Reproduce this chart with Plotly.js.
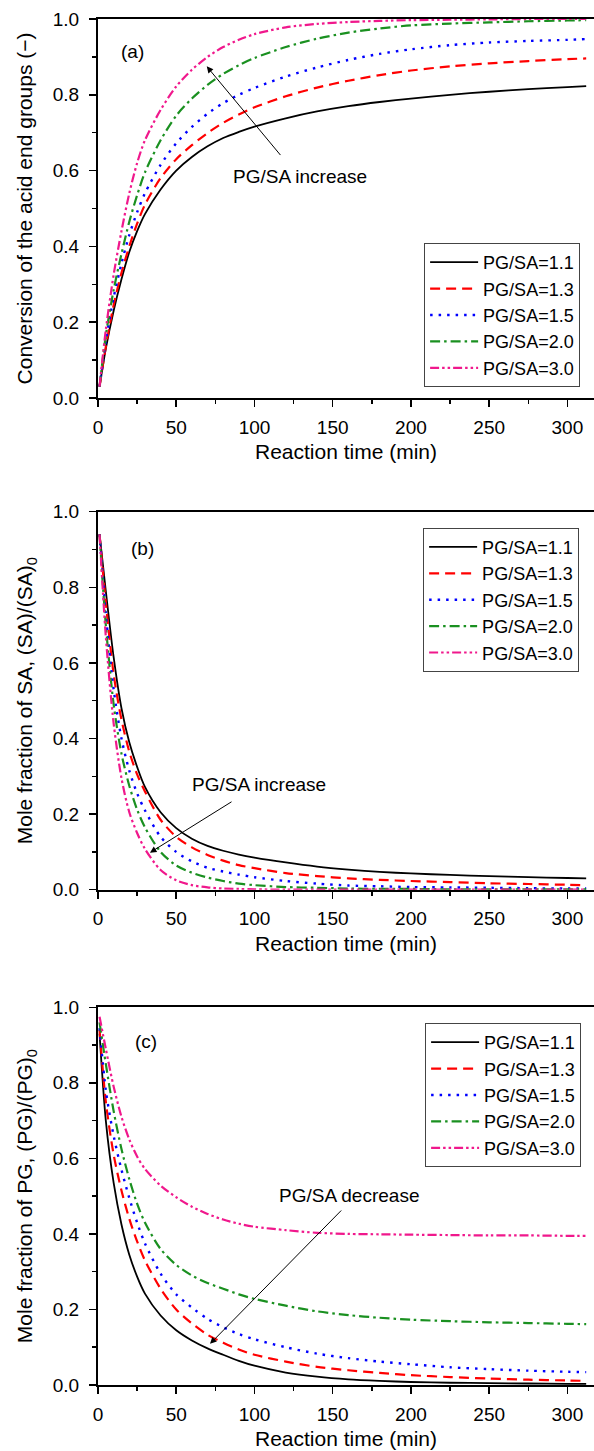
<!DOCTYPE html>
<html>
<head>
<meta charset="utf-8">
<script src="https://cdn.plot.ly/plotly-3.0.1.min.js"></script>
<style>
  html, body { margin: 0; padding: 0; background: #fff; }
  #chart { width: 594px; height: 1451px; }
</style>
</head>
<body>
<div id="chart"></div>
<script>
// ---------- data ----------
const timeMin = [1, 5, 10, 15, 20, 25, 30, 40, 50, 60, 70, 80, 90, 100, 120, 140, 160, 180, 200, 225, 250, 275, 300, 312];

const seriesNames = ['PG/SA=1.1', 'PG/SA=1.3', 'PG/SA=1.5', 'PG/SA=2.0', 'PG/SA=3.0'];

// (a) conversion of the acid end groups
const convA_11 = [0.03, 0.13, 0.23, 0.313, 0.385, 0.44, 0.485, 0.55, 0.60, 0.636, 0.664, 0.686, 0.702, 0.716, 0.738, 0.756, 0.770, 0.781, 0.790, 0.800, 0.808, 0.815, 0.820, 0.823];
const convA_13 = [0.03, 0.135, 0.245, 0.33, 0.40, 0.46, 0.51, 0.58, 0.63, 0.667, 0.699, 0.726, 0.748, 0.767, 0.796, 0.819, 0.837, 0.852, 0.864, 0.875, 0.883, 0.889, 0.894, 0.896];
const convA_15 = [0.03, 0.15, 0.265, 0.355, 0.43, 0.49, 0.54, 0.615, 0.672, 0.715, 0.750, 0.778, 0.800, 0.818, 0.848, 0.872, 0.892, 0.908, 0.920, 0.931, 0.938, 0.942, 0.945, 0.947];
const convA_20 = [0.03, 0.165, 0.285, 0.38, 0.465, 0.535, 0.595, 0.68, 0.745, 0.79, 0.826, 0.855, 0.878, 0.897, 0.926, 0.948, 0.964, 0.975, 0.983, 0.988, 0.991, 0.994, 0.996, 0.997];
const convA_30 = [0.03, 0.18, 0.325, 0.44, 0.54, 0.62, 0.68, 0.76, 0.822, 0.866, 0.900, 0.926, 0.945, 0.960, 0.978, 0.987, 0.992, 0.995, 0.997, 0.998, 0.999, 1.0, 1.0, 1.0];

// (b) mole fraction of SA
const fracSA_11 = [0.94, 0.79, 0.615, 0.48, 0.39, 0.325, 0.272, 0.205, 0.163, 0.135, 0.116, 0.103, 0.093, 0.085, 0.072, 0.061, 0.053, 0.047, 0.043, 0.039, 0.036, 0.033, 0.031, 0.030];
const fracSA_13 = [0.94, 0.76, 0.57, 0.45, 0.365, 0.305, 0.26, 0.185, 0.14, 0.112, 0.092, 0.077, 0.065, 0.057, 0.044, 0.036, 0.030, 0.026, 0.023, 0.020, 0.017, 0.015, 0.013, 0.012];
const fracSA_15 = [0.94, 0.73, 0.53, 0.40, 0.315, 0.255, 0.21, 0.14, 0.10, 0.075, 0.058, 0.048, 0.040, 0.033, 0.023, 0.016, 0.011, 0.009, 0.007, 0.006, 0.005, 0.004, 0.003, 0.003];
const fracSA_20 = [0.94, 0.70, 0.49, 0.36, 0.275, 0.212, 0.165, 0.10, 0.064, 0.045, 0.032, 0.023, 0.016, 0.012, 0.007, 0.005, 0.003, 0.002, 0.002, 0.001, 0.001, 0.001, 0.001, 0.001];
const fracSA_30 = [0.94, 0.67, 0.44, 0.295, 0.205, 0.15, 0.108, 0.052, 0.025, 0.012, 0.006, 0.003, 0.002, 0.001, 0.0, 0.0, 0.0, 0.0, 0.0, 0.0, 0.0, 0.0, 0.0, 0.0];

// (c) mole fraction of PG
const fracPG_11 = [0.93, 0.70, 0.535, 0.425, 0.345, 0.287, 0.242, 0.184, 0.145, 0.118, 0.097, 0.080, 0.064, 0.051, 0.033, 0.022, 0.015, 0.011, 0.008, 0.006, 0.005, 0.004, 0.003, 0.003];
const fracPG_13 = [0.94, 0.75, 0.61, 0.515, 0.44, 0.38, 0.33, 0.255, 0.20, 0.163, 0.133, 0.112, 0.094, 0.080, 0.062, 0.048, 0.039, 0.032, 0.026, 0.021, 0.017, 0.014, 0.012, 0.011];
const fracPG_15 = [0.945, 0.78, 0.66, 0.57, 0.495, 0.43, 0.375, 0.295, 0.24, 0.205, 0.175, 0.153, 0.135, 0.121, 0.100, 0.083, 0.071, 0.062, 0.055, 0.047, 0.042, 0.038, 0.035, 0.034];
const fracPG_20 = [0.96, 0.85, 0.725, 0.625, 0.545, 0.48, 0.43, 0.36, 0.318, 0.29, 0.27, 0.255, 0.24, 0.228, 0.21, 0.195, 0.185, 0.178, 0.173, 0.169, 0.166, 0.164, 0.162, 0.161];
const fracPG_30 = [0.975, 0.89, 0.79, 0.71, 0.65, 0.605, 0.572, 0.528, 0.497, 0.472, 0.453, 0.438, 0.427, 0.419, 0.41, 0.403, 0.40, 0.399, 0.398, 0.397, 0.396, 0.396, 0.395, 0.395];

const xTickVals = [0, 50, 100, 150, 200, 250, 300];
const yTickVals = [0.0, 0.2, 0.4, 0.6, 0.8, 1.0];
const yTickText = ['0.0', '0.2', '0.4', '0.6', '0.8', '1.0'];

// ---------- styling ----------
const FONT = 'Liberation Sans, Arial, Helvetica, sans-serif';
const styles = [
  {color: '#000000', dash: 'solid', width: 1.8},
  {color: '#ff0000', dash: '10px,6px', width: 2.2},
  {color: '#0000ff', dash: '2.5px,6px', width: 2.4},
  {color: '#1a9020', dash: '10px,4px,2.5px,4px', width: 2.2},
  {color: '#f0188c', dash: '9px,3px,2.5px,3px,2.5px,3px', width: 2.2}
];

const panels = [
  {ys: [convA_11, convA_13, convA_15, convA_20, convA_30], ax: '', leg: 'legend'},
  {ys: [fracSA_11, fracSA_13, fracSA_15, fracSA_20, fracSA_30], ax: '2', leg: 'legend2'},
  {ys: [fracPG_11, fracPG_13, fracPG_15, fracPG_20, fracPG_30], ax: '3', leg: 'legend3'}
];

const traces = [];
panels.forEach(p => {
  p.ys.forEach((y, i) => {
    traces.push({
      type: 'scatter', mode: 'lines',
      x: timeMin, y: y,
      name: seriesNames[i],
      xaxis: 'x' + p.ax, yaxis: 'y' + p.ax,
      legend: p.leg,
      line: {color: styles[i].color, dash: styles[i].dash, width: styles[i].width, shape: 'spline', smoothing: 0.8},
      hoverinfo: 'skip'
    });
  });
});

function xAxis(anchor) {
  return {
    anchor: anchor, domain: [0, 1], range: [0, 317],
    tickmode: 'array', tickvals: xTickVals,
    ticks: 'outside', ticklen: 7, tickwidth: 1.5, tickcolor: '#000',
    minor: {dtick: 25, tick0: 0, ticks: 'outside', ticklen: 4, tickwidth: 1.5, tickcolor: '#000'},
    showline: true, linewidth: 2, linecolor: '#000', mirror: true,
    showgrid: false, zeroline: false,
    tickfont: {family: FONT, size: 19, color: '#000'},
    ticklabelstandoff: 4,
    title: {text: 'Reaction time (min)', font: {family: FONT, size: 21, color: '#000'}, standoff: 8}
  };
}
function yAxis(anchor, domain, title) {
  return {
    anchor: anchor, domain: domain, range: [0, 1],
    tickmode: 'array', tickvals: yTickVals, ticktext: yTickText,
    ticks: 'outside', ticklen: 7, tickwidth: 1.5, tickcolor: '#000',
    minor: {dtick: 0.1, tick0: 0, ticks: 'outside', ticklen: 4, tickwidth: 1.5, tickcolor: '#000'},
    showline: true, linewidth: 2, linecolor: '#000', mirror: false,
    showgrid: false, zeroline: false,
    tickfont: {family: FONT, size: 19, color: '#000'},
    ticklabelstandoff: 6,
    title: {text: title, font: {family: FONT, size: 21, color: '#000'}, standoff: 14}
  };
}
function legendAt(x, y) {
  return {
    x: x, y: y, xanchor: 'right', yanchor: 'top',
    bgcolor: '#fff', bordercolor: '#444', borderwidth: 1,
    font: {family: FONT, size: 18, color: '#000'},
    itemwidth: 48, tracegroupgap: 0
  };
}

const annFont = {family: FONT, size: 19, color: '#000'};
function label(xr, yr, x, y, text) {
  return {xref: xr, yref: yr, x: x, y: y, text: text, showarrow: false, font: annFont, xanchor: 'center', yanchor: 'middle'};
}
function arrow(xr, yr, hx, hy, tx, ty) {
  return {xref: xr, yref: yr, axref: xr, ayref: yr, x: hx, y: hy, ax: tx, ay: ty, text: '',
          showarrow: true, arrowhead: 2, arrowsize: 1.3, arrowwidth: 1, arrowcolor: '#000', standoff: 0, startstandoff: 0};
}

const layout = {
  width: 594, height: 1451,
  margin: {l: 98, r: 0, t: 19, b: 66},
  paper_bgcolor: '#fff', plot_bgcolor: '#fff',
  font: {family: FONT, color: '#000'},
  showlegend: true,
  xaxis: xAxis('y'),
  xaxis2: xAxis('y2'),
  xaxis3: xAxis('y3'),
  yaxis: yAxis('x', [0.7226, 1.0], 'Conversion of the acid end groups (\u2212)'),
  yaxis2: yAxis('x2', [0.3626, 0.6393], 'Mole fraction of SA, (SA)/(SA)<sub>0</sub>'),
  yaxis3: yAxis('x3', [0.0, 0.2765], 'Mole fraction of PG, (PG)/(PG)<sub>0</sub>'),
  legend: legendAt(0.972, 0.836),
  legend2: legendAt(0.970, 0.6276),
  legend3: legendAt(0.974, 0.265),
  annotations: [
    label('x', 'y', 22, 0.915, '(a)'),
    label('x', 'y', 129, 0.585, 'PG/SA increase'),
    arrow('x', 'y', 69.5, 0.875, 117.4, 0.637),
    label('x2', 'y2', 28.6, 0.904, '(b)'),
    label('x2', 'y2', 102.6, 0.277, 'PG/SA increase'),
    arrow('x2', 'y2', 33.2, 0.098, 86.3, 0.235),
    label('x3', 'y3', 30.5, 0.909, '(c)'),
    label('x3', 'y3', 160.4, 0.503, 'PG/SA decrease'),
    arrow('x3', 'y3', 71.6, 0.109, 156.4, 0.466)
  ]
};

Plotly.newPlot('chart', traces, layout, {staticPlot: true, displayModeBar: false});
</script>
</body>
</html>
